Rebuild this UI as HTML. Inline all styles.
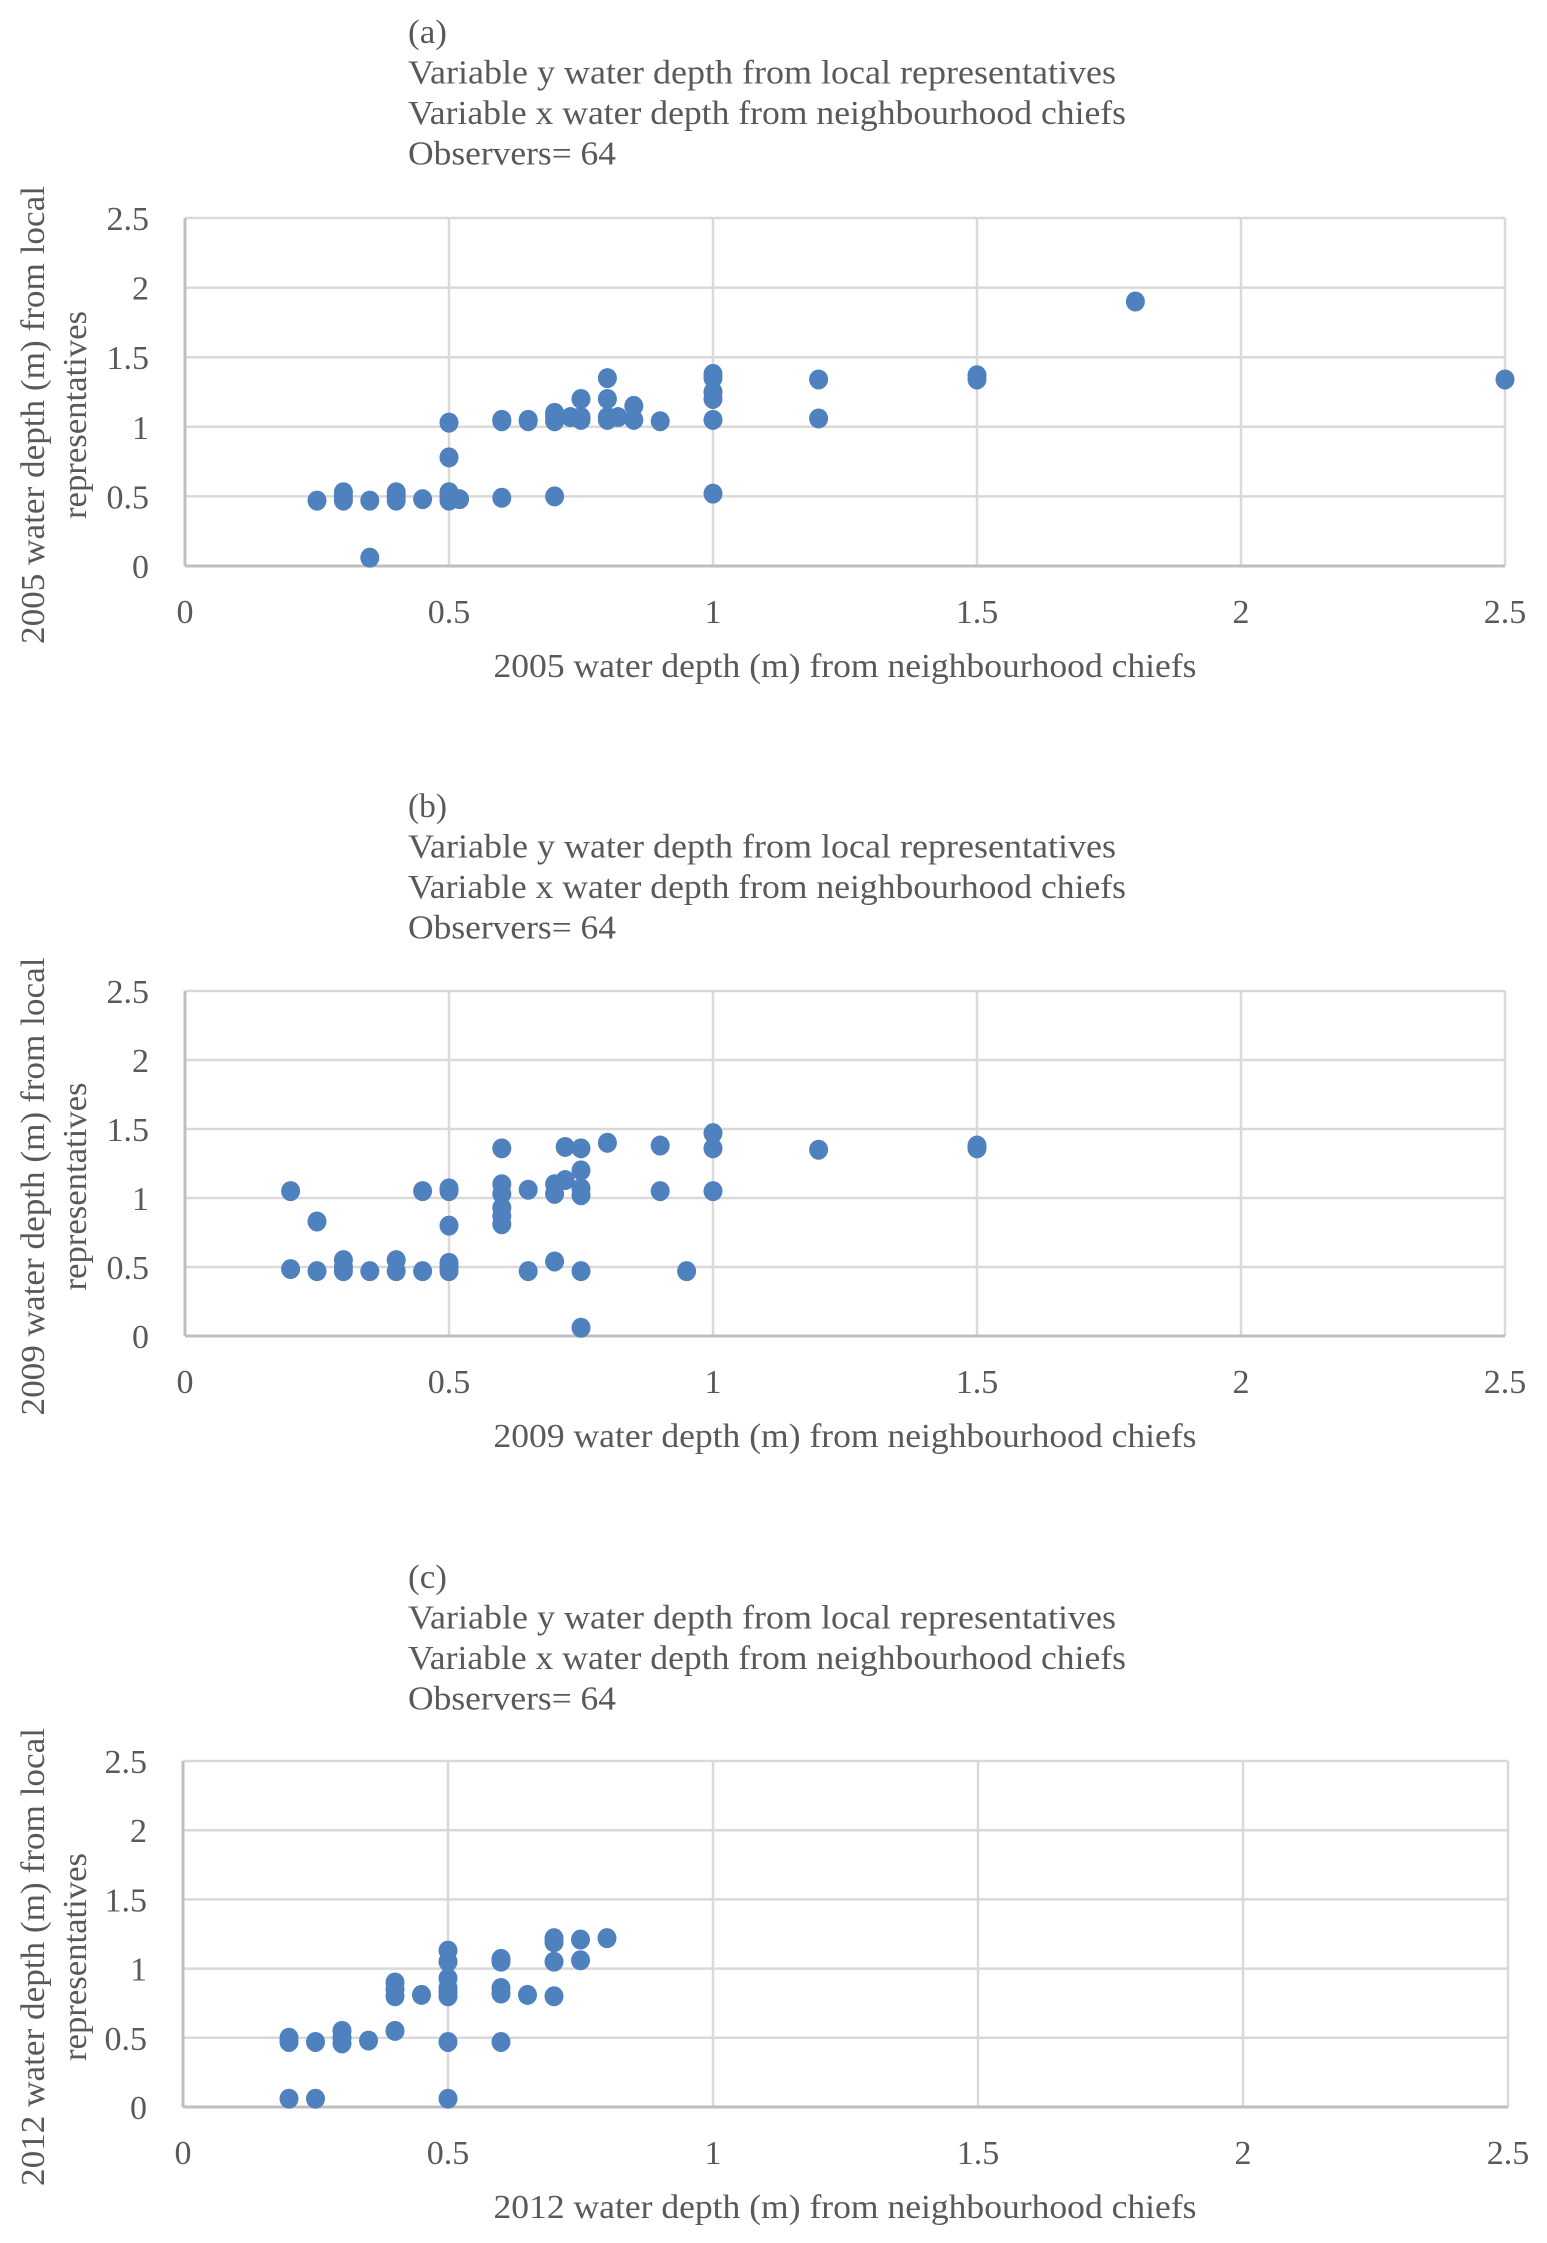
<!DOCTYPE html>
<html><head><meta charset="utf-8">
<style>
html,body{margin:0;padding:0;background:#fff;}
svg{display:block;}
text{font-family:"Liberation Serif",serif;fill:#595959;}
</style></head>
<body>
<svg id="fig" width="1547" height="2243" viewBox="0 0 1547 2243" xmlns="http://www.w3.org/2000/svg"></svg>
<script>
// Chart (a) 2005
const xA = [0.25,0.3,0.3,0.3,0.35,0.35,0.4,0.4,0.4,0.45,0.5,0.5,0.5,0.52,0.5,0.5,0.6,0.6,0.6,0.65,0.65,0.7,0.7,0.7,0.7,0.75,0.75,0.73,0.75,0.8,0.8,0.8,0.82,0.8,0.85,0.85,0.9,1,1,1,1,1,1,1.2,1.2,1.5,1.5,1.8,2.5];
const yA = [0.47,0.5,0.47,0.53,0.47,0.06,0.5,0.47,0.53,0.48,0.5,0.47,0.53,0.48,0.78,1.03,1.04,1.05,0.49,1.04,1.05,1.04,1.1,1.07,0.5,1.2,1.05,1.07,1.07,1.35,1.2,1.05,1.07,1.07,1.15,1.05,1.04,1.38,1.35,1.25,1.2,1.05,0.52,1.34,1.06,1.37,1.34,1.9,1.34];
// Chart (b) 2009
const xB = [0.2,0.25,0.2,0.25,0.3,0.3,0.3,0.35,0.4,0.4,0.45,0.45,0.5,0.5,0.5,0.5,0.5,0.5,0.6,0.6,0.6,0.6,0.6,0.6,0.65,0.65,0.7,0.7,0.7,0.72,0.72,0.75,0.75,0.75,0.75,0.75,0.75,0.8,0.9,0.9,0.95,1,1,1,1.2,1.5,1.5];
const yB = [1.05,0.83,0.485,0.47,0.55,0.47,0.5,0.47,0.55,0.47,0.47,1.05,1.05,1.07,0.8,0.53,0.47,0.5,1.36,1.1,1.03,0.93,0.87,0.81,1.06,0.47,0.54,1.1,1.03,1.13,1.37,1.36,1.2,1.07,1.02,0.47,0.06,1.4,1.38,1.05,0.47,1.47,1.36,1.05,1.35,1.38,1.36];
// Chart (c) 2012
const xC = [0.2,0.2,0.2,0.25,0.25,0.3,0.3,0.3,0.35,0.4,0.4,0.4,0.4,0.45,0.5,0.5,0.5,0.5,0.5,0.5,0.5,0.5,0.6,0.6,0.6,0.6,0.6,0.65,0.7,0.7,0.7,0.7,0.75,0.75,0.8];
const yC = [0.5,0.47,0.06,0.06,0.47,0.55,0.5,0.46,0.48,0.55,0.9,0.85,0.8,0.81,1.13,1.05,0.93,0.86,0.8,0.83,0.47,0.06,1.07,1.05,0.86,0.82,0.47,0.81,1.22,1.19,1.05,0.8,1.21,1.06,1.22];
const xTicks = ["0","0.5","1","1.5","2","2.5"];
const yTicks = ["0","0.5","1","1.5","2","2.5"];

const NS = "http://www.w3.org/2000/svg";
const svg = document.getElementById('fig');
function mk(tag, attrs, parent){
  const e = document.createElementNS(NS, tag);
  for (const k in attrs) e.setAttribute(k, attrs[k]);
  (parent||svg).appendChild(e);
  return e;
}
const panels = [
  {letter:"(a)", year:"2005", xs:xA, ys:yA, L:185, R:1505, T:218, B:566, off:0},
  {letter:"(b)", year:"2009", xs:xB, ys:yB, L:185, R:1505, T:991, B:1336, off:774},
  {letter:"(c)", year:"2012", xs:xC, ys:yC, L:183, R:1508, T:1761, B:2107, off:1545}
];
const titleLens = [39, 708, 718, 208];
panels.forEach((p, idx) => {
  const g = mk('g', {});
  
  
  const xs = v => p.L + (v / 2.5) * (p.R - p.L);
  const ys = v => p.B - (v / 2.5) * (p.B - p.T);
  const lines = [p.letter, "Variable y water depth  from local representatives", "Variable x water depth from neighbourhood chiefs", "Observers= 64"];
  lines.forEach((s, i) => {
    const t = mk('text', {x:408, y:p.off + 43 + i*40.5, 'font-size':34, 'xml:space':'preserve', textLength:titleLens[i], lengthAdjust:'spacingAndGlyphs'}, g);
    t.textContent = s;
    
    
  });
  xTicks.forEach((lab) => {
    const v = parseFloat(lab);
    const l = mk('line', {x1:xs(v), x2:xs(v), y1:p.T, y2:p.B, stroke:'#d9d9d9', 'stroke-width':2.5}, g);
    
    
    const t = mk('text', {x:xs(v), y:p.B + 57, 'font-size':34, 'text-anchor':'middle'}, g);
    t.textContent = lab;
    
    
  });
  yTicks.forEach((lab) => {
    const v = parseFloat(lab);
    const l = mk('line', {x1:p.L, x2:p.R, y1:ys(v), y2:ys(v), stroke: v===0 ? '#bfbfbf' : '#d9d9d9', 'stroke-width': v===0 ? 3 : 2.5}, g);
    
    
    const t = mk('text', {x:p.L - 36, y:ys(v) + 12, 'font-size':34, 'text-anchor':'end'}, g);
    t.textContent = lab;
    
    
  });
  const ya = mk('line', {x1:p.L, x2:p.L, y1:p.T, y2:p.B, stroke:'#bfbfbf', 'stroke-width':3}, g);
  
  
  p.xs.forEach((xv, i) => {
    const c = mk('ellipse', {cx:xs(xv), cy:ys(p.ys[i]), rx:9.5, ry:10, fill:'#4e81bd'}, g);
    
    
  });
  const xt = mk('text', {x:845, y:p.B + 111, 'font-size':34, 'text-anchor':'middle', textLength:703, lengthAdjust:'spacingAndGlyphs'}, g);
  xt.textContent = p.year + " water depth (m) from neighbourhood chiefs";
  
  
  const cy = (p.T + p.B) / 2 + 23;
  const yt1 = mk('text', {x:0, y:0, 'font-size':34, 'text-anchor':'middle', textLength:458, lengthAdjust:'spacingAndGlyphs', transform:'translate(44,' + cy + ') rotate(-90)'}, g);
  yt1.textContent = p.year + " water depth (m) from local";
  
  
  const yt2 = mk('text', {x:0, y:0, 'font-size':34, 'text-anchor':'middle', textLength:208, lengthAdjust:'spacingAndGlyphs', transform:'translate(86,' + cy + ') rotate(-90)'}, g);
  yt2.textContent = "representatives";
  
  
});
</script>
</body></html>
